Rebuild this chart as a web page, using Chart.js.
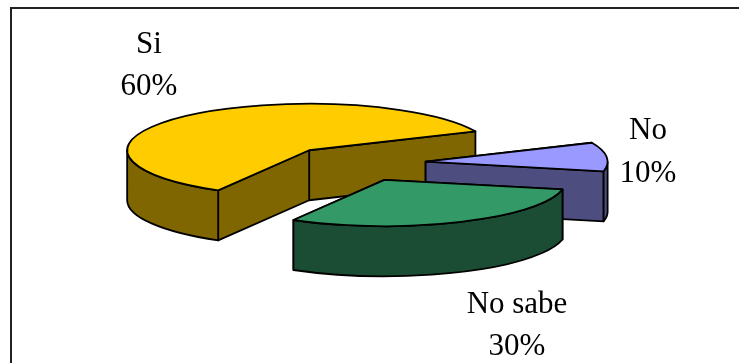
<!DOCTYPE html>
<html>
<head>
<meta charset="utf-8">
<style>
  html, body { margin: 0; padding: 0; background: #fff; overflow: hidden; }
  canvas { display: block; }
</style>
<script src="https://cdn.jsdelivr.net/npm/chart.js@4"></script>
</head>
<body>
<canvas id="pie" width="739" height="363"></canvas>
<script>
// Survey answers
const categories = ['Si', 'No', 'No sabe'];
const shares = [60, 10, 30];

// Slice colours: top face and side wall
const topColors = ['#FFCC00', '#9999FF', '#339966'];
const wallColors = ['#806600', '#4D4D80', '#1A4D33'];

// Label placement: centre x and the two text baselines
const labelAnchors = [[149, 53, 95], [648, 139, 182], [517, 313, 355]];

// Tilted pie look
const squash = 0.255;
const wallDepth = 50;
const edgeWidth = 1.8;
const TAU = Math.PI * 2;

function sliceGeometry(chart, arc) {
  const p = arc.getProps(['x', 'y', 'startAngle', 'endAngle']);
  const r = chart.getDatasetMeta(0).controller.outerRadius;
  const mid = (p.startAngle + p.endAngle) / 2;
  const shift = (arc.options.offset || 0) / 4;
  const cx = p.x + Math.cos(mid) * shift;
  const cy = p.y + Math.sin(mid) * shift * squash;
  return { cx, cy, r, ry: r * squash, a0: p.startAngle, a1: p.endAngle, shift };
}

function rim(g, angle) {
  return [g.cx + g.r * Math.cos(angle), g.cy + g.ry * Math.sin(angle)];
}

function topFacePath(ctx, g) {
  ctx.beginPath();
  ctx.moveTo(g.cx, g.cy);
  ctx.ellipse(g.cx, g.cy, g.r, g.ry, 0, g.a0, g.a1);
  ctx.closePath();
}

// Flat wall running from the apex to the rim
function radialWall(ctx, g, angle, color) {
  const [x, y] = rim(g, angle);
  ctx.beginPath();
  ctx.moveTo(g.cx, g.cy);
  ctx.lineTo(x, y);
  ctx.lineTo(x, y + wallDepth);
  ctx.lineTo(g.cx, g.cy + wallDepth);
  ctx.closePath();
  ctx.fillStyle = color;
  ctx.fill();
  ctx.stroke();
}

// Curved outer wall, only along the part of the rim facing the viewer
function outerWall(ctx, g, color) {
  for (const base of [0, TAU]) {
    const from = Math.max(g.a0, base);
    const to = Math.min(g.a1, base + Math.PI);
    if (to <= from) continue;
    ctx.beginPath();
    ctx.ellipse(g.cx, g.cy, g.r, g.ry, 0, from, to);
    ctx.ellipse(g.cx, g.cy + wallDepth, g.r, g.ry, 0, to, from, true);
    ctx.closePath();
    ctx.fillStyle = color;
    ctx.fill();
    ctx.stroke();
  }
}

const tiltedPie = {
  id: 'tiltedPie',
  beforeDraw(chart) {
    // Frame around the figure
    const ctx = chart.ctx;
    ctx.save();
    ctx.strokeStyle = '#222';
    ctx.lineWidth = 2;
    ctx.beginPath();
    ctx.moveTo(11, chart.height);
    ctx.lineTo(11, 8);
    ctx.lineTo(chart.width, 8);
    ctx.stroke();
    ctx.restore();
  },
  beforeDatasetsDraw(chart) {
    const ctx = chart.ctx;
    const arcs = chart.getDatasetMeta(0).data;
    ctx.save();
    ctx.strokeStyle = '#000';
    ctx.lineWidth = edgeWidth;
    ctx.lineJoin = 'round';
    arcs.forEach((arc, i) => {
      const g = sliceGeometry(chart, arc);
      const ordered = [g.a0, g.a1].sort((a, b) => Math.sin(a) - Math.sin(b));
      ordered.forEach(angle => radialWall(ctx, g, angle, wallColors[i]));
      outerWall(ctx, g, wallColors[i]);
      // An offset arc also grows by a share of the offset; cancel that growth
      const sweep = g.a1 - g.a0;
      arc.outerRadius = g.r - g.shift * (1 - Math.sin(Math.min(Math.PI, sweep)));
    });
    // Close the hairline an offset arc leaves along its straight edges
    arcs.forEach((arc, i) => {
      topFacePath(ctx, sliceGeometry(chart, arc));
      ctx.fillStyle = topColors[i];
      ctx.fill();
    });
    ctx.restore();
    // The library paints the top faces through this flattening transform
    const y0 = arcs[0].y;
    ctx.save();
    ctx.translate(0, y0);
    ctx.scale(1, squash);
    ctx.translate(0, -y0);
  },
  afterDatasetsDraw(chart) {
    const ctx = chart.ctx;
    ctx.restore();
    const arcs = chart.getDatasetMeta(0).data;
    ctx.save();
    ctx.strokeStyle = '#000';
    ctx.lineWidth = edgeWidth;
    ctx.lineJoin = 'round';
    arcs.forEach(arc => {
      topFacePath(ctx, sliceGeometry(chart, arc));
      ctx.stroke();
    });
    // Category and share labels
    ctx.fillStyle = '#000';
    ctx.font = '31px "Liberation Serif", serif';
    ctx.textAlign = 'center';
    ctx.textBaseline = 'alphabetic';
    categories.forEach((name, i) => {
      const [x, y1, y2] = labelAnchors[i];
      ctx.fillText(name, x, y1);
      ctx.fillText(shares[i] + '%', x, y2);
    });
    ctx.restore();
  }
};

new Chart(document.getElementById('pie'), {
  type: 'pie',
  data: {
    labels: categories,
    datasets: [{
      data: shares,
      backgroundColor: topColors,
      borderWidth: 0,
      offset: 280,
      radius: 182,
      clip: false
    }]
  },
  options: {
    responsive: false,
    animation: false,
    events: [],
    rotation: 210,
    layout: { padding: { left: 0, right: 27, top: 0, bottom: 36 } },
    plugins: { legend: { display: false }, tooltip: { enabled: false } }
  },
  plugins: [tiltedPie]
});
</script>
</body>
</html>
